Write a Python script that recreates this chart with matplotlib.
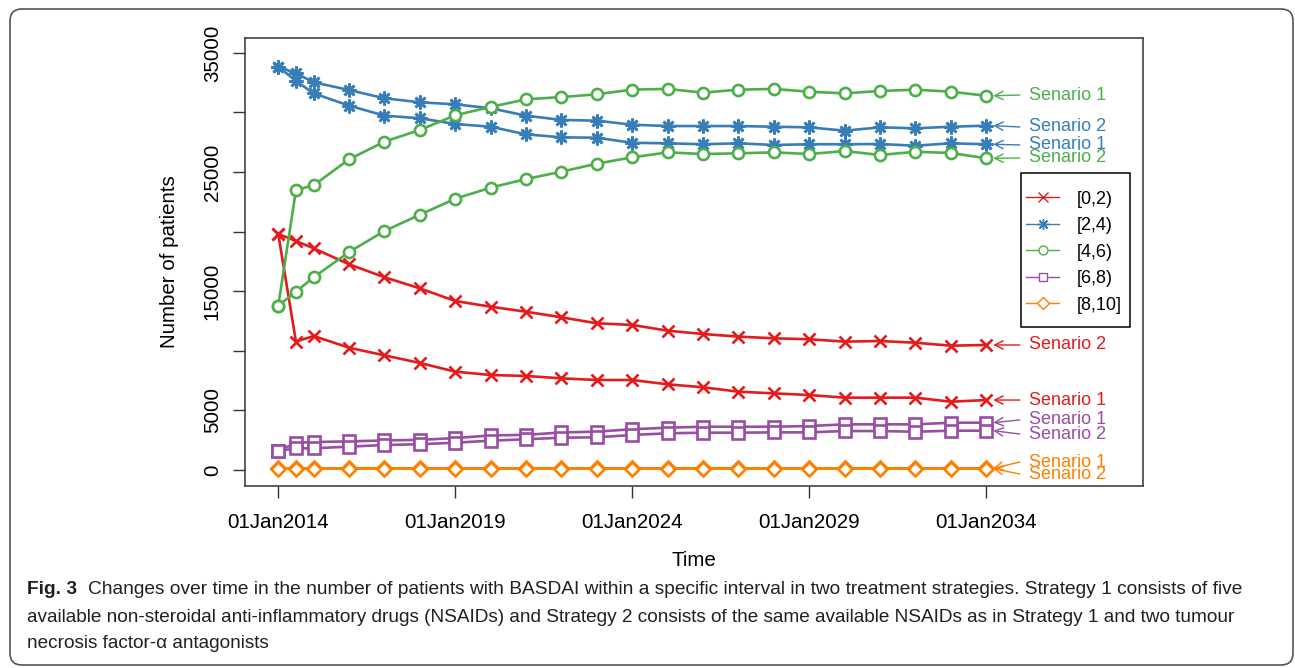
import matplotlib.pyplot as plt
from matplotlib.lines import Line2D
from matplotlib.patches import FancyBboxPatch, Rectangle
from matplotlib.transforms import IdentityTransform

plt.rcParams['font.family'] = ['Liberation Sans', 'DejaVu Sans']

# time axis in years: a half-year step at the start, then yearly
years = [2014, 2014.5, 2015, 2016, 2017, 2018, 2019, 2020, 2021, 2022, 2023,
         2024, 2025, 2026, 2027, 2028, 2029, 2030, 2031, 2032, 2033, 2034]
xtick_pos = [2014, 2019, 2024, 2029, 2034]
xtick_lab = ['01Jan2014', '01Jan2019', '01Jan2024', '01Jan2029', '01Jan2034']

# number of patients per BASDAI band, scenario 1 / scenario 2
red_s1 = [19800, 10770, 11240, 10260, 9620, 8980, 8250, 7970, 7890, 7690, 7550,
          7550, 7190, 6940, 6570, 6430, 6290, 6070, 6070, 6070, 5730, 5870]
red_s2 = [19800, 19210, 18600, 17260, 16170, 15240, 14180, 13700, 13280, 12810, 12310,
          12170, 11690, 11410, 11190, 11050, 10970, 10770, 10820, 10680, 10430, 10490]
blue_s1 = [33840, 32640, 31600, 30570, 29730, 29510, 29030, 28800, 28160, 27910, 27880,
           27450, 27410, 27330, 27410, 27270, 27330, 27330, 27350, 27210, 27410, 27330]
blue_s2 = [33840, 33280, 32530, 31880, 31190, 30850, 30680, 30350, 29730, 29370, 29310,
           28970, 28860, 28860, 28860, 28800, 28750, 28470, 28750, 28670, 28800, 28890]
green_s1 = [13790, 23490, 23890, 26070, 27550, 28530, 29760, 30460, 31100, 31290, 31520,
            31920, 31970, 31660, 31910, 31970, 31740, 31600, 31800, 31910, 31740, 31400]
green_s2 = [13790, 14960, 16170, 18290, 20050, 21420, 22760, 23690, 24410, 25030, 25700,
            26230, 26650, 26510, 26570, 26650, 26510, 26760, 26430, 26700, 26600, 26150]
purple_s1 = [1590, 2290, 2350, 2400, 2480, 2530, 2680, 2900, 2950, 3150, 3220,
             3420, 3550, 3630, 3630, 3630, 3690, 3830, 3830, 3830, 3970, 3970]
purple_s2 = [1590, 1820, 1820, 1960, 2100, 2160, 2290, 2460, 2580, 2710, 2740,
             2940, 3080, 3130, 3130, 3160, 3160, 3270, 3270, 3210, 3300, 3300]
orange_s1 = [130, 130, 130, 140, 140, 140, 140, 140, 140, 140, 140,
             140, 140, 140, 140, 140, 140, 140, 140, 140, 140, 140]
orange_s2 = [110, 110, 110, 110, 120, 120, 120, 120, 120, 120, 120,
             120, 120, 120, 120, 120, 120, 120, 120, 120, 120, 120]

bands = ['[0,2)', '[2,4)', '[4,6)', '[6,8)', '[8,10]']
colors = ['#E41A1C', '#377EB8', '#4DAF4A', '#984EA3', '#FF7F00']
markers = ['x', (8, 2, 0), 'o', 's', 'D']
msizes = [9, 10, 8, 8, 7.5]

series = [(red_s1, red_s2), (blue_s1, blue_s2), (green_s1, green_s2),
          (purple_s1, purple_s2), (orange_s1, orange_s2)]

# y position of each "Senario" label (scenario 1, scenario 2)
label_y = [(5870, 10490), (27270, 28780), (31460, 26180), (4200, 3020), (670, -340)]

fig = plt.figure(figsize=(12.95, 6.68), dpi=100)
ax = fig.add_axes([245 / 1295, 1 - 486 / 668, 898 / 1295, 448 / 668])

for (s1, s2), c, m, ms in zip(series, colors, markers, msizes):
    for s in (s1, s2):
        ax.plot(years, s, color=c, lw=1.9, marker=m, ms=ms, mew=1.9,
                mfc='white', mec=c, clip_on=False, zorder=3)

for (s1, s2), (ly1, ly2), c in zip(series, label_y, colors):
    for s, ly, txt in ((s1, ly1, 'Senario 1'), (s2, ly2, 'Senario 2')):
        ax.annotate('', xy=(years[-1] + 0.2, s[-1]), xytext=(2034.95, ly),
                    arrowprops=dict(arrowstyle='->,head_length=0.6,head_width=0.3',
                                    color=c, lw=1, shrinkA=0, shrinkB=0),
                    annotation_clip=False)
        ax.text(2035.2, ly, txt, color=c, fontsize=13, va='center', ha='left')

ax.set_xlim(2013.06, 2038.43)
ax.set_ylim(-1342, 36245)
ax.set_xticks(xtick_pos)
ax.set_xticklabels(xtick_lab)
ax.set_yticks([0, 5000, 10000, 15000, 20000, 25000, 30000, 35000])
ax.set_yticklabels(['0', '5000', '', '15000', '', '25000', '', '35000'],
                   rotation=90, va='center')
ax.tick_params(axis='both', direction='out', length=8.6, width=1, labelsize=14.8,
               color='#333333')
ax.tick_params(axis='x', pad=11)
ax.tick_params(axis='y', pad=8)
for sp in ax.spines.values():
    sp.set_linewidth(1.1)
    sp.set_color('#333333')

fig.text(170 / 1295, 1 - 262 / 668, 'Number of patients', rotation=90,
         fontsize=14.8, ha='center', va='center')
fig.text(694 / 1295, 1 - 561 / 668, 'Time', fontsize=14.8, ha='center', va='center')

# legend: entries without frame, box drawn separately
handles = [Line2D([], [], color=c, lw=1, marker=m, ms=ms * 0.8, mew=1, mfc='white', mec=c)
           for c, m, ms in zip(colors, markers, msizes)]
leg = fig.legend(handles, bands, loc='upper left', bbox_to_anchor=(1026 / 1295, 1 - 190.5 / 668),
                 fontsize=13, frameon=False, borderpad=0, borderaxespad=0,
                 handlelength=1.85, handletextpad=0.95, labelspacing=0.53)
fig.add_artist(Rectangle((1021, 668 - 327), 109, 154, transform=IdentityTransform(),
                         fill=False, edgecolor='black', lw=1.1))

# caption below the chart
cap_col = '#231f20'
fig.text(27 / 1295, 1 - 590 / 668, 'Fig. 3', fontsize=13.8, fontweight='bold',
         color=cap_col, va='center', ha='left')
fig.text(88 / 1295, 1 - 590 / 668,
         'Changes over time in the number of patients with BASDAI within a specific interval '
         'in two treatment strategies. Strategy 1 consists of five',
         fontsize=13.8, color=cap_col, va='center', ha='left')
fig.text(27 / 1295, 1 - 617 / 668,
         'available non-steroidal anti-inflammatory drugs (NSAIDs) and Strategy 2 consists of '
         'the same available NSAIDs as in Strategy 1 and two tumour',
         fontsize=13.7, color=cap_col, va='center', ha='left')
fig.text(27 / 1295, 1 - 643 / 668, 'necrosis factor-\u03b1 antagonists',
         fontsize=13.7, color=cap_col, va='center', ha='left')

# rounded frame around the whole figure
frame = FancyBboxPatch((10, 3), 1283, 656, boxstyle='round,pad=0,rounding_size=12',
                       transform=IdentityTransform(), fill=False, edgecolor='#555555', lw=1.2)
fig.add_artist(frame)

fig.savefig('out.png', dpi=100)
